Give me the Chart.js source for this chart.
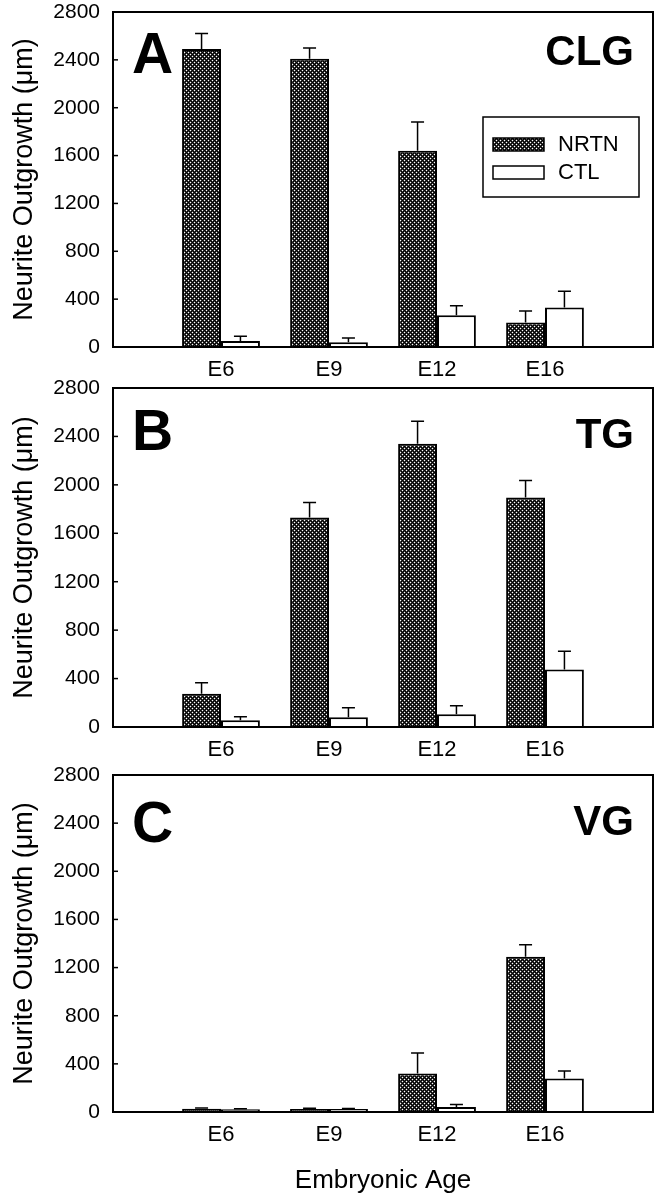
<!DOCTYPE html>
<html>
<head>
<meta charset="utf-8">
<script src="https://cdn.jsdelivr.net/npm/chart.js@4.4.1/dist/chart.umd.min.js"></script>
<style>
  html, body { margin: 0; padding: 0; background: #fff; }
  #wrap { position: relative; width: 663px; height: 1199px; }
  #wrap canvas { position: absolute; left: 0; }
</style>
</head>
<body>
<div id="wrap">
  <canvas id="chartA" width="663" height="387" style="top:0px"></canvas>
  <canvas id="chartB" width="663" height="391" style="top:376px"></canvas>
  <canvas id="chartC" width="663" height="436" style="top:763px"></canvas>
</div>
<script>
// categories and y axis
const ages = ['E6', 'E9', 'E12', 'E16'];
const yMax = 2800;
const yStep = 400;

// A - CLG
const clgNrtn = [2490, 2410, 1640, 205];
const clgNrtnErr = [130, 90, 240, 95];
const clgCtl = [50, 40, 265, 330];
const clgCtlErr = [40, 35, 80, 135];

// B - TG
const tgNrtn = [275, 1730, 2340, 1895];
const tgNrtnErr = [90, 125, 185, 140];
const tgCtl = [55, 80, 105, 475];
const tgCtlErr = [30, 80, 70, 150];

// C - VG
const vgNrtn = [28, 25, 320, 1290];
const vgNrtnErr = [6, 6, 170, 100];
const vgCtl = [22, 25, 42, 278];
const vgCtlErr = [5, 5, 20, 62];

const FONT = 'Liberation Sans, Arial, Helvetica, sans-serif';
Chart.defaults.font.family = FONT;
Chart.defaults.color = '#000';

// black fill with small white dots
function dotPattern() {
    const c = document.createElement('canvas');
    c.width = 4; c.height = 4;
    const g = c.getContext('2d');
    g.fillStyle = '#000';
    g.fillRect(0, 0, 4, 4);
    g.fillStyle = '#fff';
    g.fillRect(0, 0, 1, 1);
    g.fillRect(2, 2, 1, 1);
    g.fillStyle = '#3a3a3a';
    [[1, 0], [3, 0], [0, 1], [0, 3], [1, 2], [3, 2], [2, 1], [2, 3]].forEach(p => g.fillRect(p[0], p[1], 1, 1));
    return g.createPattern(c, 'repeat');
}

const errorBars = {
    id: 'errorBars',
    afterDatasetsDraw(chart) {
        const ctx = chart.ctx;
        const ys = chart.scales.y;
        ctx.save();
        ctx.strokeStyle = '#000';
        ctx.lineWidth = 1.5;
        chart.data.datasets.forEach((ds, i) => {
            chart.getDatasetMeta(i).data.forEach((bar, j) => {
                const top = ys.getPixelForValue(ds.data[j].y + ds.errors[j]);
                ctx.beginPath();
                ctx.moveTo(bar.x, bar.y);
                ctx.lineTo(bar.x, top);
                ctx.moveTo(bar.x - 6.5, top);
                ctx.lineTo(bar.x + 6.5, top);
                ctx.stroke();
            });
        });
        ctx.restore();
    }
};

const frame = {
    id: 'frame',
    afterDraw(chart, args, opts) {
        const { ctx, chartArea: a } = chart;
        const ys = chart.scales.y;
        ctx.save();
        ctx.strokeStyle = '#000';
        ctx.lineWidth = 2;
        ctx.strokeRect(a.left, a.top, a.right - a.left, a.bottom - a.top);
        ctx.lineWidth = 1.5;
        ys.ticks.forEach(t => {
            const py = ys.getPixelForValue(t.value);
            ctx.beginPath();
            ctx.moveTo(a.left, py);
            ctx.lineTo(a.left + 5, py);
            ctx.stroke();
        });

        // panel letter and ganglion name
        ctx.fillStyle = '#000';
        ctx.textBaseline = 'alphabetic';
        ctx.font = 'bold ' + opts.letterSize + 'px ' + FONT;
        ctx.textAlign = 'left';
        ctx.fillText(opts.letter, a.left + 19, a.top + opts.letterY);
        ctx.font = 'bold 42px ' + FONT;
        ctx.textAlign = 'right';
        ctx.fillText(opts.name, a.right - 19, a.top + opts.nameY);

        if (opts.legend) {
            const lx = a.right - 170, ly = a.top + 105;
            ctx.lineWidth = 1.5;
            ctx.strokeRect(lx, ly, 156, 80);
            ctx.font = '22px ' + FONT;
            ctx.textAlign = 'left';
            ctx.textBaseline = 'middle';
            chart.data.datasets.forEach((ds, i) => {
                const sy = ly + 21 + i * 28;
                ctx.fillStyle = ds.backgroundColor;
                ctx.fillRect(lx + 10, sy, 51, 13);
                ctx.strokeRect(lx + 10, sy, 51, 13);
                ctx.fillStyle = '#000';
                ctx.fillText(ds.label, lx + 75, sy + 7);
            });
        }
        ctx.restore();
    }
};

function makePanel(id, xHeight, panel, nrtn, nrtnErr, ctl, ctlErr, showTitle) {
    const pat = dotPattern();
    return new Chart(document.getElementById(id), {
        type: 'bar',
        data: {
            datasets: [{
                label: 'NRTN',
                data: nrtn.map((v, i) => ({ x: i + 1, y: v })),
                errors: nrtnErr,
                backgroundColor: pat,
                borderColor: '#000',
                borderWidth: 2
            }, {
                label: 'CTL',
                data: ctl.map((v, i) => ({ x: i + 1, y: v })),
                errors: ctlErr,
                backgroundColor: '#fff',
                borderColor: '#000',
                borderWidth: 2
            }]
        },
        options: {
            responsive: false,
            animation: false,
            devicePixelRatio: 1,
            categoryPercentage: 0.72,
            barPercentage: 1.0,
            layout: { padding: { top: 0, right: 10, bottom: 0, left: 0 } },
            plugins: {
                legend: { display: false },
                tooltip: { enabled: false },
                frame: panel
            },
            scales: {
                x: {
                    type: 'linear',
                    offset: false,
                    min: 0,
                    max: ages.length + 1,
                    grid: { display: false, drawTicks: false },
                    border: { display: false },
                    ticks: {
                        stepSize: 1,
                        padding: 10,
                        font: { size: 22 },
                        callback: v => ages[v - 1] || ''
                    },
                    title: {
                        display: showTitle,
                        text: 'Embryonic Age',
                        font: { size: 26 },
                        padding: { top: 0, bottom: 3 }
                    },
                    afterFit: s => { s.height = xHeight; }
                },
                y: {
                    min: 0,
                    max: yMax,
                    grid: { display: false, drawTicks: false },
                    border: { display: false },
                    ticks: {
                        stepSize: yStep,
                        padding: 13,
                        font: { size: 21 },
                        callback: v => String(v)
                    },
                    title: {
                        display: true,
                        text: 'Neurite Outgrowth (μm)',
                        font: { size: 27 },
                        padding: { top: 8, bottom: 0 }
                    },
                    afterFit: s => {
                        s.width = 113;
                        s.paddingTop = 12;
                        s.paddingBottom = 0;
                    }
                }
            }
        },
        plugins: [errorBars, frame]
    });
}

makePanel('chartA', 40, { letter: 'A', name: 'CLG', letterSize: 57, letterY: 61, nameY: 53, legend: true },
    clgNrtn, clgNrtnErr, clgCtl, clgCtlErr, false);
makePanel('chartB', 40, { letter: 'B', name: 'TG', letterSize: 57, letterY: 62, nameY: 60, legend: false },
    tgNrtn, tgNrtnErr, tgCtl, tgCtlErr, false);
makePanel('chartC', 87, { letter: 'C', name: 'VG', letterSize: 57, letterY: 67, nameY: 60, legend: false },
    vgNrtn, vgNrtnErr, vgCtl, vgCtlErr, true);
</script>
</body>
</html>
